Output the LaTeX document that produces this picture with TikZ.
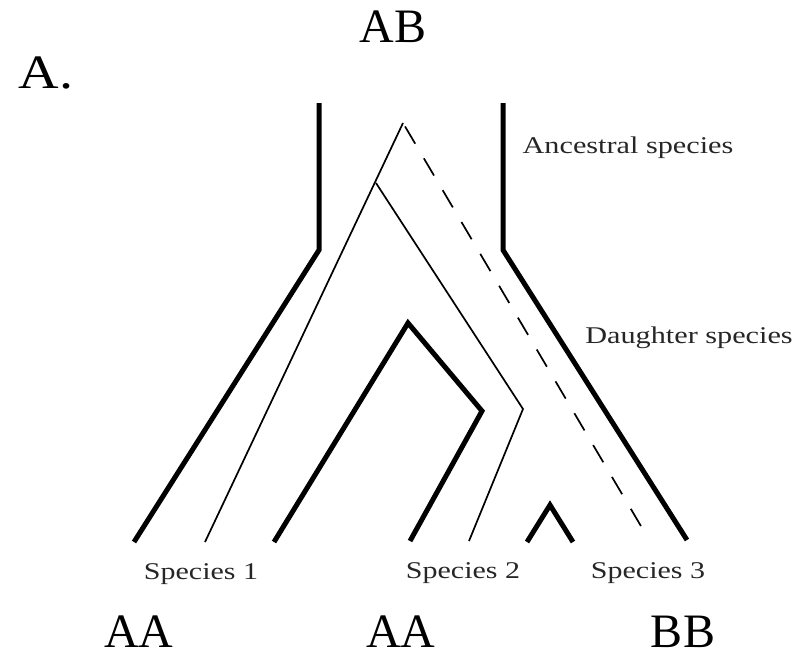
\documentclass[tikz,border=0pt]{standalone}
\usepackage{graphicx}
\usepackage{fontspec}
\newfontfamily\labelfont{Liberation Serif}
\begin{document}
\begin{tikzpicture}[x=1pt,y=-1pt,
  thickline/.style={line width=5pt, line join=miter},
  thinline/.style={line width=1.7pt},
  geneline/.style={line width=1.7pt, dash pattern=on 20pt off 17pt, dash phase=-4pt},
  biglabel/.style={font=\labelfont\fontsize{48}{48}\selectfont, inner sep=0pt, anchor=base},
  smalllabel/.style={font=\labelfont\fontsize{24}{24}\selectfont, text=black!85, inner sep=0pt, anchor=base}]
\useasboundingbox (0,0) rectangle (798,657);

% labels
\node[biglabel] (panel) at (46,88) {\scalebox{1.17}[1]{A.}};
\node[biglabel] (gAB) at (393,42) {AB};
\node[biglabel] (gAA1) at (139,647) {AA};
\node[biglabel] (gAA2) at (401,647) {AA};
\node[biglabel] (gBB) at (683,647) {BB};
\node[smalllabel] (anc) at (628,153) {\scalebox{1.26}[1]{Ancestral species}};
\node[smalllabel] (dau) at (689,343) {\scalebox{1.26}[1]{Daughter species}};
\node[smalllabel] (sp1) at (201,579) {\scalebox{1.25}[1]{Species 1}};
\node[smalllabel] (sp2) at (463,578) {\scalebox{1.25}[1]{Species 2}};
\node[smalllabel] (sp3) at (648,578) {\scalebox{1.25}[1]{Species 3}};

% species tree outline
\coordinate (Ltop) at (319,103);
\coordinate (Lbend) at (319,250);
\coordinate (Lend) at (134,542);
\coordinate (Rtop) at (503,103);
\coordinate (Rbend) at (503,250);
\coordinate (Rend) at (687,540);
\draw[thickline] (Ltop) -- (Lbend) -- (Lend);
\draw[thickline] (Rtop) -- (Rbend) -- (Rend);

% inner thick branches
\coordinate (Mleft) at (274,542);
\coordinate (Mapex) at (408,323);
\coordinate (Mbend) at (482,411);
\coordinate (Mend) at (410,541);
\draw[thickline] (Mleft) -- (Mapex) -- (Mbend) -- (Mend);
\coordinate (Cleft) at (527,542);
\coordinate (Capex) at (550,505);
\coordinate (Cright) at (573,542);
\draw[thickline] (Cleft) -- (Capex) -- (Cright);

% gene tree
\coordinate (Gapex) at (403,123);
\coordinate (Gsplit) at (376,183);
\coordinate (Gend1) at (205,542);
\coordinate (Gbend) at (523,409);
\coordinate (Gend2) at (469,541);
\coordinate (Gend3) at (648,538);
\draw[thinline] (Gapex) -- (Gend1);
\draw[thinline] (Gsplit) -- (Gbend) -- (Gend2);
\draw[geneline] (Gapex) -- (Gend3);
\end{tikzpicture}
\end{document}
